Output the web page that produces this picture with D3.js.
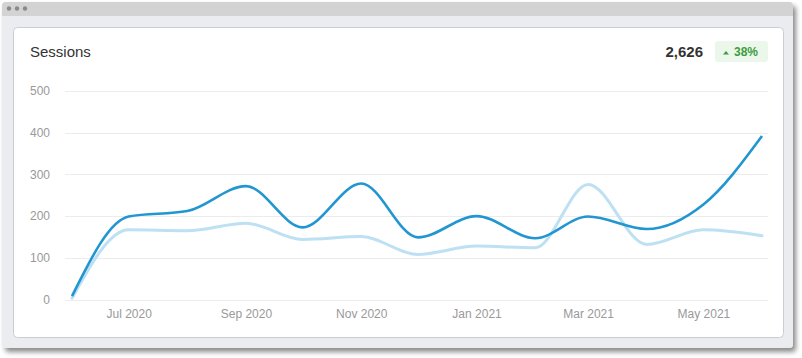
<!DOCTYPE html>
<html>
<head>
<meta charset="utf-8">
<script src="https://cdn.jsdelivr.net/npm/d3@7"></script>
<style>
  html, body { margin: 0; padding: 0; background: #ffffff; }
  svg { display: block; font-family: "Helvetica Neue", Helvetica, Arial, "Liberation Sans", sans-serif; }
</style>
</head>
<body>
<svg id="chart" width="802" height="358"></svg>
<script>
// ---- data ----
const months = ["2020-06","2020-07","2020-08","2020-09","2020-10","2020-11","2020-12",
                "2021-01","2021-02","2021-03","2021-04","2021-05","2021-06"];
const currentSessions = [8, 199, 212, 272, 173, 278, 149, 200, 147, 199, 169, 228, 392];
const previousSessions = [3, 167, 165, 183, 144, 151, 108, 128, 124, 276, 132, 167, 153];
const yTicks = [0, 100, 200, 300, 400, 500];
const xTickLabels = ["Jul 2020", "Sep 2020", "Nov 2020", "Jan 2021", "Mar 2021", "May 2021"];
const xTickDates = ["2020-07","2020-09","2020-11","2021-01","2021-03","2021-05"];
const title = "Sessions";
const changePct = 38;

const parse = d3.timeParse("%Y-%m");
const dates = months.map(parse);
const total = d3.sum(currentSessions);

const svg = d3.select("#chart");

// ---- window frame ----
const defs = svg.append("defs");
const f = defs.append("filter").attr("id", "shadow").attr("x", "-5%").attr("y", "-5%").attr("width", "110%").attr("height", "115%");
f.append("feDropShadow").attr("dx", 3).attr("dy", 4).attr("stdDeviation", 2.5).attr("flood-color", "#000").attr("flood-opacity", 0.45);

svg.append("rect").attr("x", 2).attr("y", 2).attr("width", 791).attr("height", 346)
  .attr("rx", 4).attr("fill", "#ebecf0").attr("filter", "url(#shadow)");
// title bar
const clip = defs.append("clipPath").attr("id", "winclip");
clip.append("rect").attr("x", 2).attr("y", 2).attr("width", 791).attr("height", 346).attr("rx", 4);
svg.append("rect").attr("x", 2).attr("y", 2).attr("width", 791).attr("height", 14)
  .attr("fill", "#d3d3d3").attr("clip-path", "url(#winclip)");
[9, 17, 25].forEach(cx => svg.append("circle").attr("cx", cx).attr("cy", 8.5).attr("r", 2.2).attr("fill", "#8a8a8a"));

// card
svg.append("rect").attr("x", 13.5).attr("y", 27.5).attr("width", 770).attr("height", 310)
  .attr("rx", 4).attr("fill", "#ffffff").attr("stroke", "#c9cdd4").attr("stroke-width", 1);

// ---- header ----
svg.append("text").attr("x", 30).attr("y", 57).attr("font-size", 15).attr("fill", "#333")
  .text(title);
svg.append("text").attr("x", 703).attr("y", 57).attr("text-anchor", "end")
  .attr("font-size", 15).attr("font-weight", "bold").attr("fill", "#333")
  .text(d3.format(",")(total));
svg.append("rect").attr("x", 715).attr("y", 41).attr("width", 53).attr("height", 21)
  .attr("rx", 3).attr("fill", "#ecf7ec");
svg.append("path").attr("d", "M723,54.5 L726,51 L729,54.5 Z").attr("fill", "#3c9c3c");
svg.append("text").attr("x", 734).attr("y", 56).attr("font-size", 12).attr("font-weight", "bold")
  .attr("fill", "#3c9c3c").text(changePct + "%");

// ---- scales ----
const x = d3.scaleTime().domain([dates[0], dates[dates.length - 1]]).range([72, 762]);
const y = d3.scaleLinear().domain([0, 500]).range([299.5, 91]);

// grid
svg.append("g").selectAll("line").data(yTicks).join("line")
  .attr("x1", 65).attr("x2", 768)
  .attr("y1", d => Math.round(y(d)) + 0.5).attr("y2", d => Math.round(y(d)) + 0.5)
  .attr("stroke", "#ececec").attr("stroke-width", 1);

// y axis
const yAxis = d3.axisLeft(y).tickValues(yTicks).tickSize(0).tickPadding(0);
const gy = svg.append("g").attr("transform", "translate(50,0)").call(yAxis);
gy.select(".domain").remove();
gy.selectAll("text").attr("font-size", 12).attr("fill", "#999").attr("font-family", null);

// x axis
const xAxis = d3.axisBottom(x).tickValues(xTickDates.map(parse))
  .tickFormat((d, i) => xTickLabels[i]).tickSize(0).tickPadding(0);
const gx = svg.append("g").attr("transform", "translate(0,309)").call(xAxis);
gx.select(".domain").remove();
gx.selectAll("text").attr("font-size", 12).attr("fill", "#999").attr("font-family", null);

// lines
const line = d3.line().x((d, i) => x(dates[i])).y(d => y(d)).curve(d3.curveMonotoneX);
svg.append("path").datum(previousSessions).attr("d", line)
  .attr("fill", "none").attr("stroke", "#bde0f2").attr("stroke-width", 3)
  .attr("stroke-linejoin", "round").attr("stroke-linecap", "round");
svg.append("path").datum(currentSessions).attr("d", line)
  .attr("fill", "none").attr("stroke", "#2196d0").attr("stroke-width", 2.6)
  .attr("stroke-linejoin", "round").attr("stroke-linecap", "butt");
</script>
</body>
</html>
